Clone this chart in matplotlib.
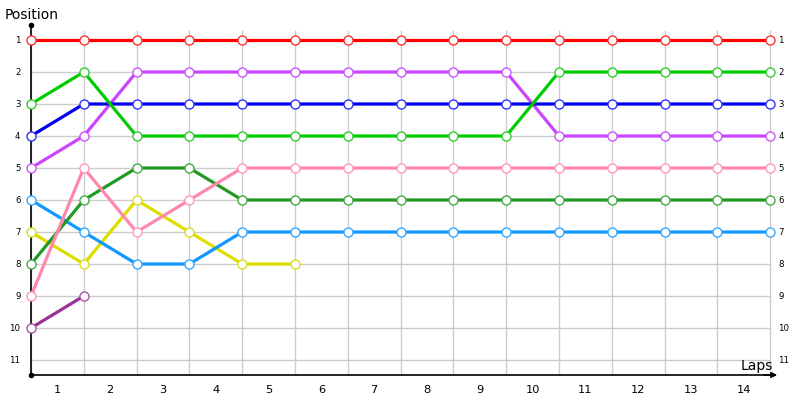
import numpy as np
import matplotlib.pyplot as plt

laps = list(range(1, 15))
positions = list(range(1, 12))

red = [1] * 15
green = [3, 2, 4, 4, 4, 4, 4, 4, 4, 4, 2, 2, 2, 2, 2]
blue = [4] + [3] * 14
purple = [5, 4, 2, 2, 2, 2, 2, 2, 2, 2, 4, 4, 4, 4, 4]
pink = [9, 5, 7, 6, 5, 5, 5, 5, 5, 5, 5, 5, 5, 5, 5]
dkgreen = [8, 6, 5, 5, 6, 6, 6, 6, 6, 6, 6, 6, 6, 6, 6]
ltblue = [6, 7, 8, 8, 7, 7, 7, 7, 7, 7, 7, 7, 7, 7, 7]
yellow = [7, 8, 6, 7, 8, 8]
dkpurple = [10, 9]

series = [
    (dkpurple, '#993399', '#aa55aa'),
    (yellow, '#dddd00', '#dddd22'),
    (ltblue, '#1199ff', '#33aaff'),
    (dkgreen, '#229922', '#44aa44'),
    (pink, '#ff88aa', '#ff99bb'),
    (purple, '#cc44ff', '#cc55ff'),
    (blue, '#0000ee', '#3333ff'),
    (green, '#00cc00', '#33cc33'),
    (red, '#ff0000', '#ff3333'),
]

fig = plt.figure(figsize=(8, 4), dpi=100)
ax = fig.add_axes([31 / 800, 25 / 400, 749 / 800, 350 / 400])
ax.set_xlim(0, 749 / 52.8)
ybot = 1 + 335 / 32
ytop = 1 - 15 / 32
ax.set_ylim(ybot, ytop)
ax.axis('off')

# grid
ax.vlines(range(15), ybot, 0.7, color='#cccccc', lw=1, zorder=0)
ax.hlines(positions, 0, 14, color='#cccccc', lw=1, zorder=0)

for vals, c, ec in series:
    ax.plot(range(len(vals)), vals, color=c, lw=2.3, marker='o', ms=6.5,
            mfc='white', mec=ec, mew=1.0, zorder=5, clip_on=False)

# axes lines
ax.plot([0, 0], [ybot, ytop], color='black', lw=1.2, zorder=4, clip_on=False)
ax.plot([0, 749 / 52.8 - 0.1], [ybot, ybot], color='black', lw=1.2, zorder=4, clip_on=False)
ax.plot([0], [ytop], marker='o', ms=3, color='black', clip_on=False)
ax.plot([0], [ybot], marker='o', ms=3, color='black', clip_on=False)
ax.annotate('', xy=(749 / 52.8, ybot), xytext=(749 / 52.8 - 0.35, ybot),
            arrowprops=dict(arrowstyle='-|>', color='black', lw=1.2,
                            mutation_scale=8), annotation_clip=False)

for p in positions:
    ax.text(-0.2, p, str(p), ha='right', va='center', fontsize=6.2)
    ax.text(14.15, p, str(p), ha='left', va='center', fontsize=6.2)

for l in laps:
    ax.text(l - 0.5, ybot + 0.47, str(l), ha='center', va='center', fontsize=8.2)

fig.text(5 / 800, 1 - 15 / 400, 'Position', ha='left', va='center', fontsize=10)
ax.text(14.05, ybot - 0.28, 'Laps', ha='right', va='center', fontsize=10)

fig.savefig('out.png', dpi=100)
